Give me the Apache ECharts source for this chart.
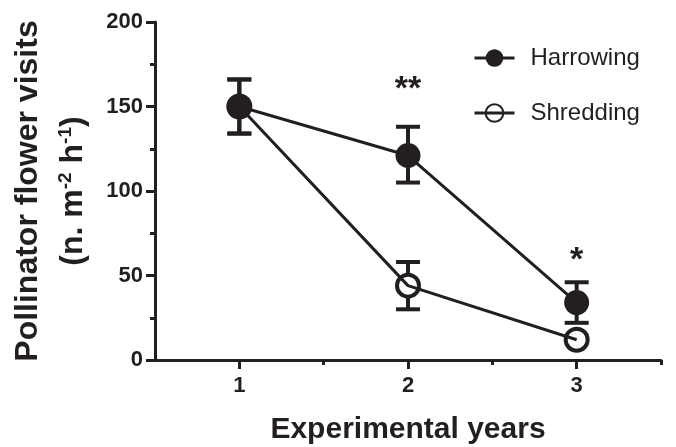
<!DOCTYPE html>
<html>
<head>
<meta charset="utf-8">
<script src="https://cdn.jsdelivr.net/npm/echarts@6/dist/echarts.min.js"></script>
<style>
html,body{margin:0;padding:0;background:#fff;}
#chart{width:676px;height:447px;}
</style>
</head>
<body>
<div id="chart"></div>
<script>
// ---- data ----
const years = [1, 2, 3];
const xTickLabels = ['1', '2', '3'];
const yTicks = [0, 50, 100, 150, 200];
const harrowing = [150, 121, 34];
const harrowingLow = [134, 105, 22];
const harrowingHigh = [166, 138, 46];
const shredding = [150, 44, 12];
const shreddingLow = [134, 30, 8];
const shreddingHigh = [166, 58, 16];
const stars = [[2, '**'], [3, '*']];
const starValues = [160, 59];

const INK = '#231f20';
const FONT = 'Liberation Sans, Arial, sans-serif';
const R = 12; // marker radius (px)

const chart = echarts.init(document.getElementById('chart'));

function errSeries(name, mean, low, high) {
  return {
    type: 'custom',
    name: name + ' err',
    silent: true,
    z: 1,
    data: years.map((x, i) => [x, mean[i], low[i], high[i]]),
    encode: { x: 0, y: [1, 2, 3] },
    renderItem: function (params, api) {
      const c = api.coord([api.value(0), api.value(1)]);
      const lo = api.coord([api.value(0), api.value(2)]);
      const hi = api.coord([api.value(0), api.value(3)]);
      const half = 12;
      const st = { stroke: INK, lineWidth: 4 };
      const kids = [];
      if (hi[1] < c[1] - R) {
        kids.push({ type: 'line', shape: { x1: c[0], y1: hi[1], x2: c[0], y2: c[1] - R }, style: st });
        kids.push({ type: 'line', shape: { x1: c[0] - half, y1: hi[1], x2: c[0] + half, y2: hi[1] }, style: st });
      }
      if (lo[1] > c[1] + R) {
        kids.push({ type: 'line', shape: { x1: c[0], y1: c[1] + R, x2: c[0], y2: lo[1] }, style: st });
        kids.push({ type: 'line', shape: { x1: c[0] - half, y1: lo[1], x2: c[0] + half, y2: lo[1] }, style: st });
      }
      return { type: 'group', children: kids };
    }
  };
}

const option = {
  animation: false,
  backgroundColor: '#fff',
  grid: { left: 155, right: 15, top: 22, bottom: 87, containLabel: false, outerBoundsMode: 'none' },
  legend: {
    data: ['Harrowing', 'Shredding'],
    orient: 'vertical',
    left: 468,
    top: 41,
    itemWidth: 40,
    itemHeight: 22,
    itemGap: 31,
    lineStyle: { width: 3, color: INK },
    textStyle: { fontSize: 24, color: INK, fontFamily: FONT, padding: [0, 0, 0, 11] }
  },
  xAxis: [{
    type: 'value',
    min: 0.5,
    max: 3.5,
    interval: 0.5,
    name: 'Experimental years',
    nameLocation: 'middle',
    nameGap: 55,
    nameTextStyle: { fontSize: 30, fontWeight: 'bold', color: INK, fontFamily: FONT },
    axisLine: { lineStyle: { color: INK, width: 3 } },
    axisTick: { customValues: years, length: 9, lineStyle: { color: INK, width: 3 } },
    axisLabel: {
      customValues: years,
      formatter: function (v) { const i = years.indexOf(v); return i >= 0 ? xTickLabels[i] : ''; },
      fontSize: 22, fontWeight: 'bold', color: INK, margin: 15,
      fontFamily: FONT
    },
    splitLine: { show: false }
  }, {
    type: 'value',
    min: 0.5,
    max: 3.5,
    interval: 0.5,
    position: 'bottom',
    axisLine: { show: false },
    axisTick: { customValues: [1.5, 2.5, 3.5], length: 5, lineStyle: { color: INK, width: 3 } },
    axisLabel: { show: false },
    splitLine: { show: false }
  }],
  yAxis: {
    type: 'value',
    min: 0,
    max: 200,
    interval: 50,
    name: '{t|Pollinator flower visits}\n{t|(n. m}{s|-2}{t| h}{s|-1}{t|)}',
    nameLocation: 'middle',
    nameGap: 59,
    nameTextStyle: {
      fontSize: 32, fontWeight: 'bold', color: INK, lineHeight: 45,
      fontFamily: FONT,
      rich: {
        t: { fontSize: 32, fontWeight: 'bold', color: INK, lineHeight: 45, fontFamily: FONT },
        s: { fontSize: 19, fontWeight: 'bold', color: INK, lineHeight: 45, padding: [0, 0, 15, 0], fontFamily: FONT }
      }
    },
    axisLine: { show: true, lineStyle: { color: INK, width: 3 } },
    axisTick: { show: true, length: 9, lineStyle: { color: INK, width: 3 } },
    minorTick: { show: true, splitNumber: 2, length: 5, lineStyle: { color: INK, width: 3 } },
    axisLabel: {
      fontSize: 22, fontWeight: 'bold', color: INK, margin: 12,
      fontFamily: FONT,
      formatter: function (v) { return yTicks.indexOf(v) >= 0 ? String(v) : ''; }
    },
    splitLine: { show: false }
  },
  series: [
    errSeries('Shredding', shredding, shreddingLow, shreddingHigh),
    errSeries('Harrowing', harrowing, harrowingLow, harrowingHigh),
    {
      name: 'Shredding',
      type: 'line',
      data: years.map((x, i) => [x, shredding[i]]),
      symbol: 'circle',
      symbolSize: 22,
      z: 3,
      lineStyle: { color: INK, width: 3 },
      itemStyle: { color: 'rgba(255,255,255,0)', borderColor: INK, borderWidth: 4 }
    },
    {
      name: 'Harrowing',
      type: 'line',
      data: years.map((x, i) => [x, harrowing[i]]),
      symbol: 'circle',
      symbolSize: 25,
      z: 4,
      lineStyle: { color: INK, width: 3 },
      itemStyle: { color: INK, borderWidth: 0 }
    },
    {
      name: 'sig',
      type: 'scatter',
      silent: true,
      symbolSize: 0,
      itemStyle: { opacity: 1, color: INK },
      data: stars.map((s, i) => ({ value: [s[0], starValues[i]], label: { formatter: s[1] } })),
      label: {
        show: true, position: 'inside', fontSize: 34, fontWeight: 'bold', color: INK,
        fontFamily: FONT
      }
    }
  ]
};
chart.setOption(option);
</script>
</body>
</html>
